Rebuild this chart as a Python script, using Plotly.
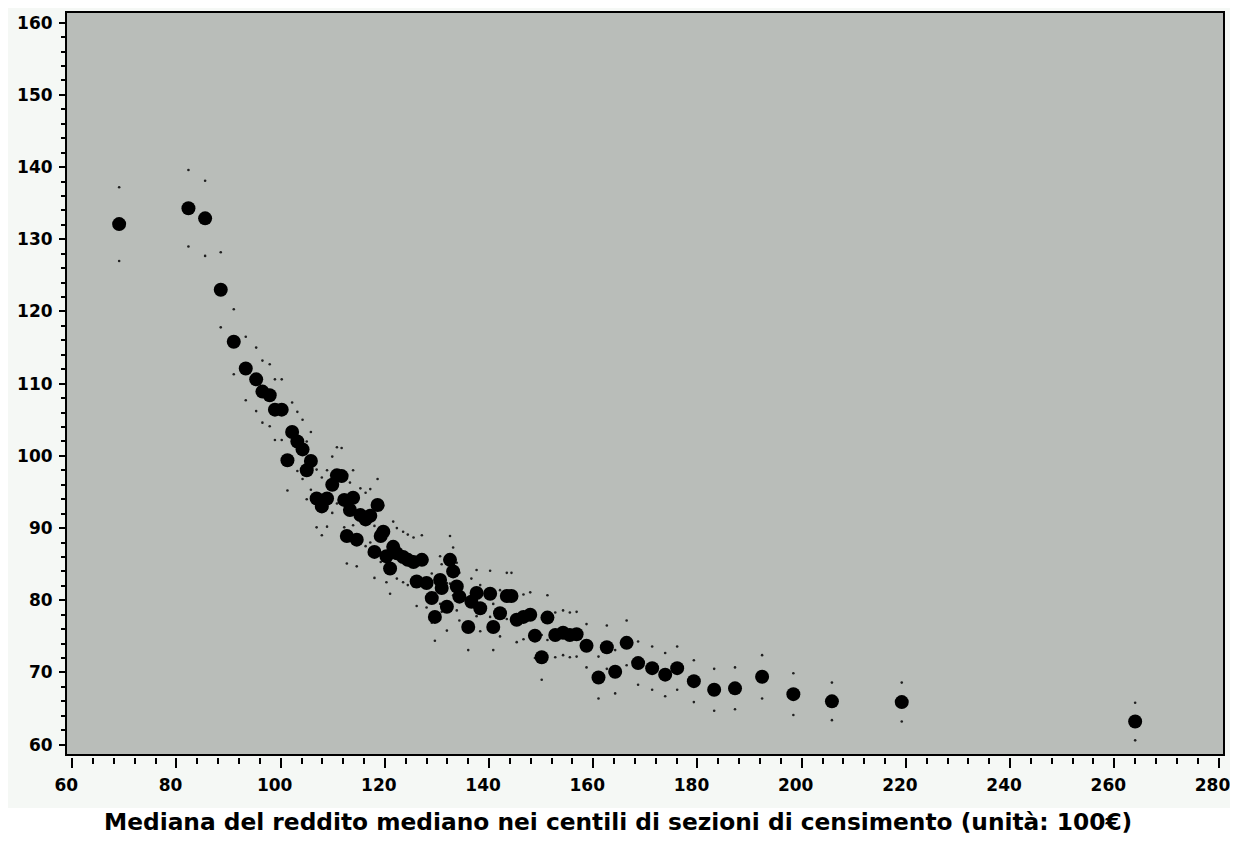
import plotly.graph_objects as go

# Large dots: centile mean income (x) vs value (y)
x_vals = [69.0, 82.3, 85.5, 88.5, 91.0, 93.3, 95.3, 96.5, 97.9, 98.9,
          100.2, 101.3, 102.2, 103.2, 104.2, 105.0, 105.8, 106.9, 107.9, 108.9,
          109.9, 110.8, 111.7, 112.2, 112.7, 113.3, 113.9, 114.6, 115.3, 116.3,
          117.2, 118.0, 118.6, 119.2, 119.7, 120.3, 121.0, 121.6, 122.3, 123.5,
          124.4, 125.5, 126.1, 127.1, 128.0, 129.0, 129.6, 130.6, 130.9, 131.9,
          132.5, 133.1, 133.8, 134.3, 136.0, 136.6, 137.6, 138.3, 140.2, 140.8,
          142.1, 143.4, 144.3, 145.3, 146.6, 147.9, 148.8, 150.1, 151.2, 152.7,
          154.2, 155.5, 156.8, 158.7, 161.0, 162.6, 164.2, 166.4, 168.6, 171.3,
          173.8, 176.1, 179.3, 183.2, 187.2, 192.4, 198.4, 205.8, 219.2, 264.0]
y_vals = [132.1, 134.3, 132.9, 123.0, 115.8, 112.1, 110.6, 108.9, 108.4, 106.4,
          106.4, 99.4, 103.3, 102.0, 100.9, 98.0, 99.3, 94.1, 93.0, 94.1,
          96.0, 97.3, 97.2, 93.9, 88.9, 92.5, 94.2, 88.4, 91.8, 91.2,
          91.7, 86.7, 93.2, 88.9, 89.5, 86.1, 84.4, 87.4, 86.5, 86.0,
          85.6, 85.3, 82.6, 85.6, 82.4, 80.3, 77.7, 82.8, 81.7, 79.1,
          85.6, 84.0, 81.9, 80.5, 76.3, 79.8, 81.0, 78.9, 80.9, 76.3,
          78.2, 80.6, 80.6, 77.3, 77.7, 78.0, 75.1, 72.1, 77.6, 75.2,
          75.5, 75.2, 75.3, 73.7, 69.3, 73.5, 70.1, 74.1, 71.3, 70.6,
          69.7, 70.6, 68.8, 67.6, 67.8, 69.4, 67.0, 66.0, 65.9, 63.2]
# half-width of the interval drawn as small dots above / below each point
half_width = [5.1, 5.3, 5.2, 5.2, 4.5, 4.4, 4.4, 4.3, 4.3, 4.2,
              4.2, 4.2, 4.1, 4.1, 4.1, 4.0, 4.0, 4.0, 4.0, 3.9,
              3.9, 3.9, 3.9, 3.8, 3.8, 3.8, 3.8, 3.7, 3.7, 3.7,
              3.7, 3.6, 3.6, 3.6, 3.6, 3.6, 3.5, 3.5, 3.5, 3.5,
              3.5, 3.4, 3.4, 3.4, 3.4, 3.4, 3.3, 3.3, 3.3, 3.3,
              3.3, 3.3, 3.3, 3.3, 3.2, 3.2, 3.2, 3.2, 3.2, 3.2,
              3.2, 3.2, 3.2, 3.1, 3.1, 3.1, 3.1, 3.1, 3.1, 3.1,
              3.1, 3.1, 3.1, 3.0, 2.9, 3.0, 3.0, 3.1, 3.0, 3.0,
              3.0, 3.0, 2.9, 2.9, 2.9, 3.0, 2.9, 2.6, 2.7, 2.6]

x_ticks = [60, 80, 100, 120, 140, 160, 180, 200, 220, 240, 260, 280]
y_ticks = [60, 70, 80, 90, 100, 110, 120, 130, 140, 150, 160]
x_title = "Mediana del reddito mediano nei centili di sezioni di censimento (unità: 100€)"

upper = [y + h for y, h in zip(y_vals, half_width)]
lower = [y - h for y, h in zip(y_vals, half_width)]

fig = go.Figure()
fig.add_trace(go.Scatter(x=x_vals + x_vals, y=upper + lower, mode="markers",
                         marker=dict(size=2.6, color="#202020"),
                         hoverinfo="skip", showlegend=False))
fig.add_trace(go.Scatter(x=x_vals, y=y_vals, mode="markers",
                         marker=dict(size=14, color="#000000", line=dict(width=0)),
                         showlegend=False))

tick_font = dict(family="DejaVu Sans", size=17, color="#000000", weight="bold")

# page is rendered with an 8px body margin, so figure px = page px - 8
W, H = 1222, 833
M_L, M_T, M_B = 58, 4, 84
M_R = W - 1216
PLOT_H = H - M_T - M_B  # height between top margin and x axis line

fig.update_layout(
    width=W, height=H,
    margin=dict(l=M_L, r=M_R, t=M_T, b=M_B, autoexpand=False),
    paper_bgcolor="#f5f8f5",
    plot_bgcolor="#b9bdb9",
    showlegend=False,
    xaxis=dict(range=[58.8, 281.05], tickvals=x_ticks,
               ticks="outside", ticklen=10, tickwidth=2, tickcolor="#000",
               minor=dict(dtick=4, tick0=60, ticks="outside", ticklen=6,
                          tickwidth=2, tickcolor="#000", showgrid=False),
               showgrid=False, zeroline=False, showline=False,
               anchor="free", position=0, tickfont=tick_font,
               ticklabelstandoff=3, ticklabelshift=-6,
               ticklabeloverflow="allow", automargin=False),
    yaxis=dict(range=[58.57, 161.48], tickvals=y_ticks, ticks="outside",
               ticklen=6, tickwidth=2, tickcolor="#000",
               minor=dict(dtick=2, tick0=60, ticks="outside", ticklen=4,
                          tickwidth=2, tickcolor="#000", showgrid=False),
               showgrid=False, zeroline=False, showline=False,
               domain=[2 / PLOT_H, 1], tickfont=tick_font, ticklabelstandoff=3,
               ticklabeloverflow="allow", automargin=False),
    shapes=[
        dict(type="rect", xref="x domain", yref="y domain", x0=0, x1=1, y0=0, y1=1,
             line=dict(color="#000", width=2), fillcolor="rgba(0,0,0,0)", layer="above"),
        dict(type="rect", xref="paper", yref="paper",
             x0=-0.1, x1=1.1, y0=-0.2, y1=(757 - 808) / PLOT_H,
             line=dict(width=0), fillcolor="#ffffff", layer="below"),
    ],
    annotations=[dict(text=x_title, xref="paper", yref="paper",
                      x=(617.5 - 66) / 1158, y=(757 - 821) / PLOT_H,
                      xanchor="center", yanchor="middle", showarrow=False,
                      font=dict(family="DejaVu Sans", size=23.3, color="#000", weight="bold"))],
)

fig.write_html("out.html")
